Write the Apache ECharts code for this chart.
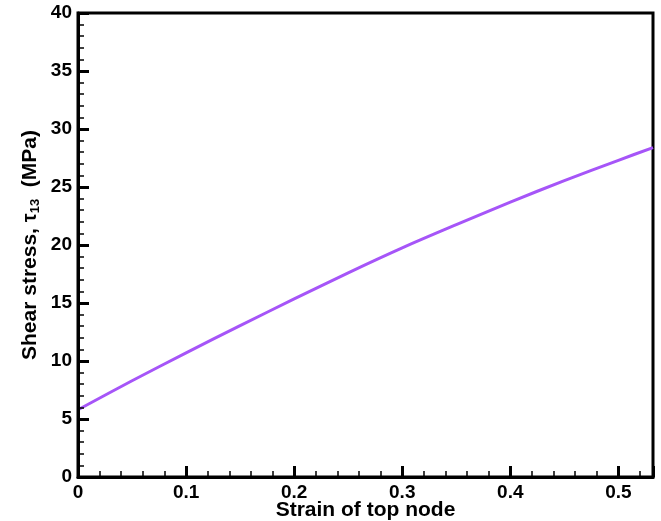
<!DOCTYPE html>
<html>
<head>
<meta charset="utf-8">
<script src="https://cdn.jsdelivr.net/npm/echarts@6/dist/echarts.min.js"></script>
<style>html,body{margin:0;padding:0;background:#fff}#c{width:661px;height:521px}</style>
</head>
<body>
<div id="c"></div>
<script>
const strain = [0, 0.05, 0.1, 0.15, 0.2, 0.25, 0.3, 0.35, 0.4, 0.45, 0.5, 0.532];
const stress = [5.8, 8.3, 10.7, 13.05, 15.35, 17.6, 19.75, 21.75, 23.7, 25.55, 27.3, 28.4];
const xTitle = 'Strain of top node';
const yTitle = 'Shear stress, {g|τ}{sub|13}  (MPa)';

const chart = echarts.init(document.getElementById('c'));
const font = 'Liberation Sans, Arial, sans-serif';
const axisCommon = {
  axisLine: {show: true, onZero: false, lineStyle: {color: '#000', width: 3}},
  axisTick: {show: true, inside: true, length: 11, lineStyle: {color: '#000', width: 3}},
  minorTick: {show: true, splitNumber: 5, length: 6, lineStyle: {color: '#000', width: 1.5}},
  splitLine: {show: false},
  axisLabel: {color: '#000', fontFamily: font, fontWeight: 'bold', fontSize: 19}
};
chart.setOption({
  animation: false,
  grid: {left: 78, right: 8, top: 13, bottom: 44, show: true, borderColor: '#000', borderWidth: 3, containLabel: false, outerBoundsMode: 'none'},
  xAxis: Object.assign({}, axisCommon, {
    type: 'value', min: 0, max: 0.532, interval: 0.1, z: 5,
    axisLabel: Object.assign({}, axisCommon.axisLabel, {margin: 6, showMaxLabel: false, formatter: v => v === 0 ? '0' : String(+v.toFixed(1))}),
    name: xTitle, nameLocation: 'middle', nameGap: 23, nameMoveOverlap: false,
    nameTextStyle: {color: '#000', fontFamily: font, fontWeight: 'bold', fontSize: 21}
  }),
  yAxis: Object.assign({}, axisCommon, {
    type: 'value', min: 0, max: 40, interval: 5, z: 5,
    axisLabel: Object.assign({}, axisCommon.axisLabel, {margin: 6}),
    name: yTitle, nameLocation: 'middle', nameGap: 36, nameMoveOverlap: false,
    nameTextStyle: {color: '#000', fontFamily: font, fontWeight: 'bold', fontSize: 21,
      rich: {
        g: {fontFamily: font, fontWeight: 'bold', fontSize: 20, color: '#000'},
        sub: {fontFamily: font, fontWeight: 'bold', fontSize: 13, color: '#000', padding: [10, 0, 0, 0]}
      }}
  }),
  series: [{
    type: 'line', data: strain.map((x, i) => [x, stress[i]]),
    showSymbol: false, smooth: 0.3, z: 2,
    lineStyle: {color: '#a655f8', width: 3}
  }]
});
</script>
</body>
</html>
